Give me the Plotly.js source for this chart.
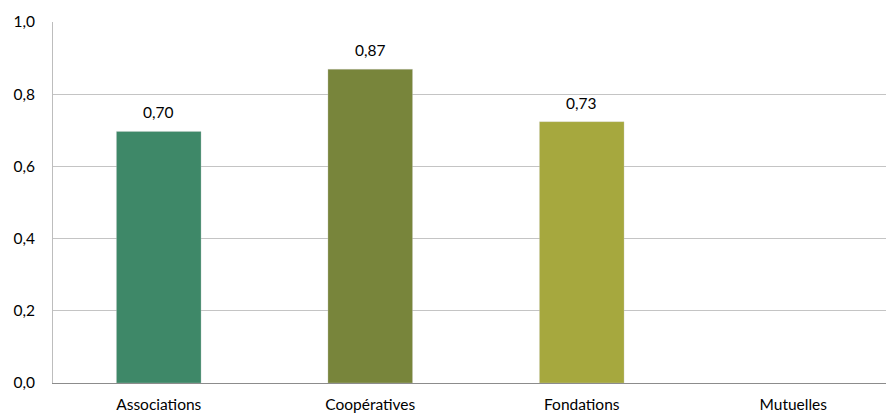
<!DOCTYPE html>
<html>
<head>
<meta charset="utf-8">
<script src="https://cdn.plot.ly/plotly-3.0.1.min.js"></script>
<style>
html,body{margin:0;padding:0;overflow:hidden;background:#fff;width:886px;height:414px;}
#chart{width:900px;height:414px;}
</style>
</head>
<body>
<div id="chart"></div>
<script>
const categories = ["Associations", "Coopératives", "Fondations", "Mutuelles"];
const values = [0.697, 0.869, 0.724, null];
const valueLabels = ["0,70", "0,87", "0,73", ""];
const barColors = ["#3E8868", "#78853B", "#A6A83E", "#A6A83E"];
const yTickValues = [0, 0.2, 0.4, 0.6, 0.8, 1.0];

const fontFamily = "Lato, 'Open Sans', sans-serif";

const trace = {
  type: "bar",
  x: categories,
  y: values,
  width: 0.40,
  marker: {color: barColors, line: {color: "rgba(210,210,210,0.6)", width: 0.5}},
  hoverinfo: "skip"
};

const annotations = categories.map((c, i) => values[i] == null ? null : ({
  x: c, y: values[i], xref: "x", yref: "y",
  text: valueLabels[i],
  showarrow: false, yanchor: "bottom", yshift: 8,
  font: {family: fontFamily, size: 15.5, color: "#000"}
})).filter(a => a);

const layout = {
  width: 900, height: 414,
  margin: {l: 53, r: 1, t: 22, b: 31},
  paper_bgcolor: "#fff", plot_bgcolor: "#fff",
  separators: ", ",
  showlegend: false,
  font: {family: fontFamily, size: 15.5, color: "#000"},
  xaxis: {
    type: "category",
    showline: true, linecolor: "#8c8c8c", linewidth: 1,
    ticks: "", showgrid: false, zeroline: false,
    tickfont: {family: fontFamily, size: 15.5, color: "#000"},
    ticklabelstandoff: 7
  },
  yaxis: {
    range: [0, 1.0],
    tickvals: yTickValues,
    tickformat: ".1f",
    showline: true, linecolor: "#bdbdbd", linewidth: 1,
    showgrid: true, gridcolor: "#c4c4c4", gridwidth: 1,
    zeroline: false,
    ticks: "", ticklabelstandoff: 14,
    tickfont: {family: fontFamily, size: 15.5, color: "#000"}
  },
  annotations: annotations
};

Plotly.newPlot("chart", [trace], layout, {displayModeBar: false, staticPlot: true});
</script>
</body>
</html>
